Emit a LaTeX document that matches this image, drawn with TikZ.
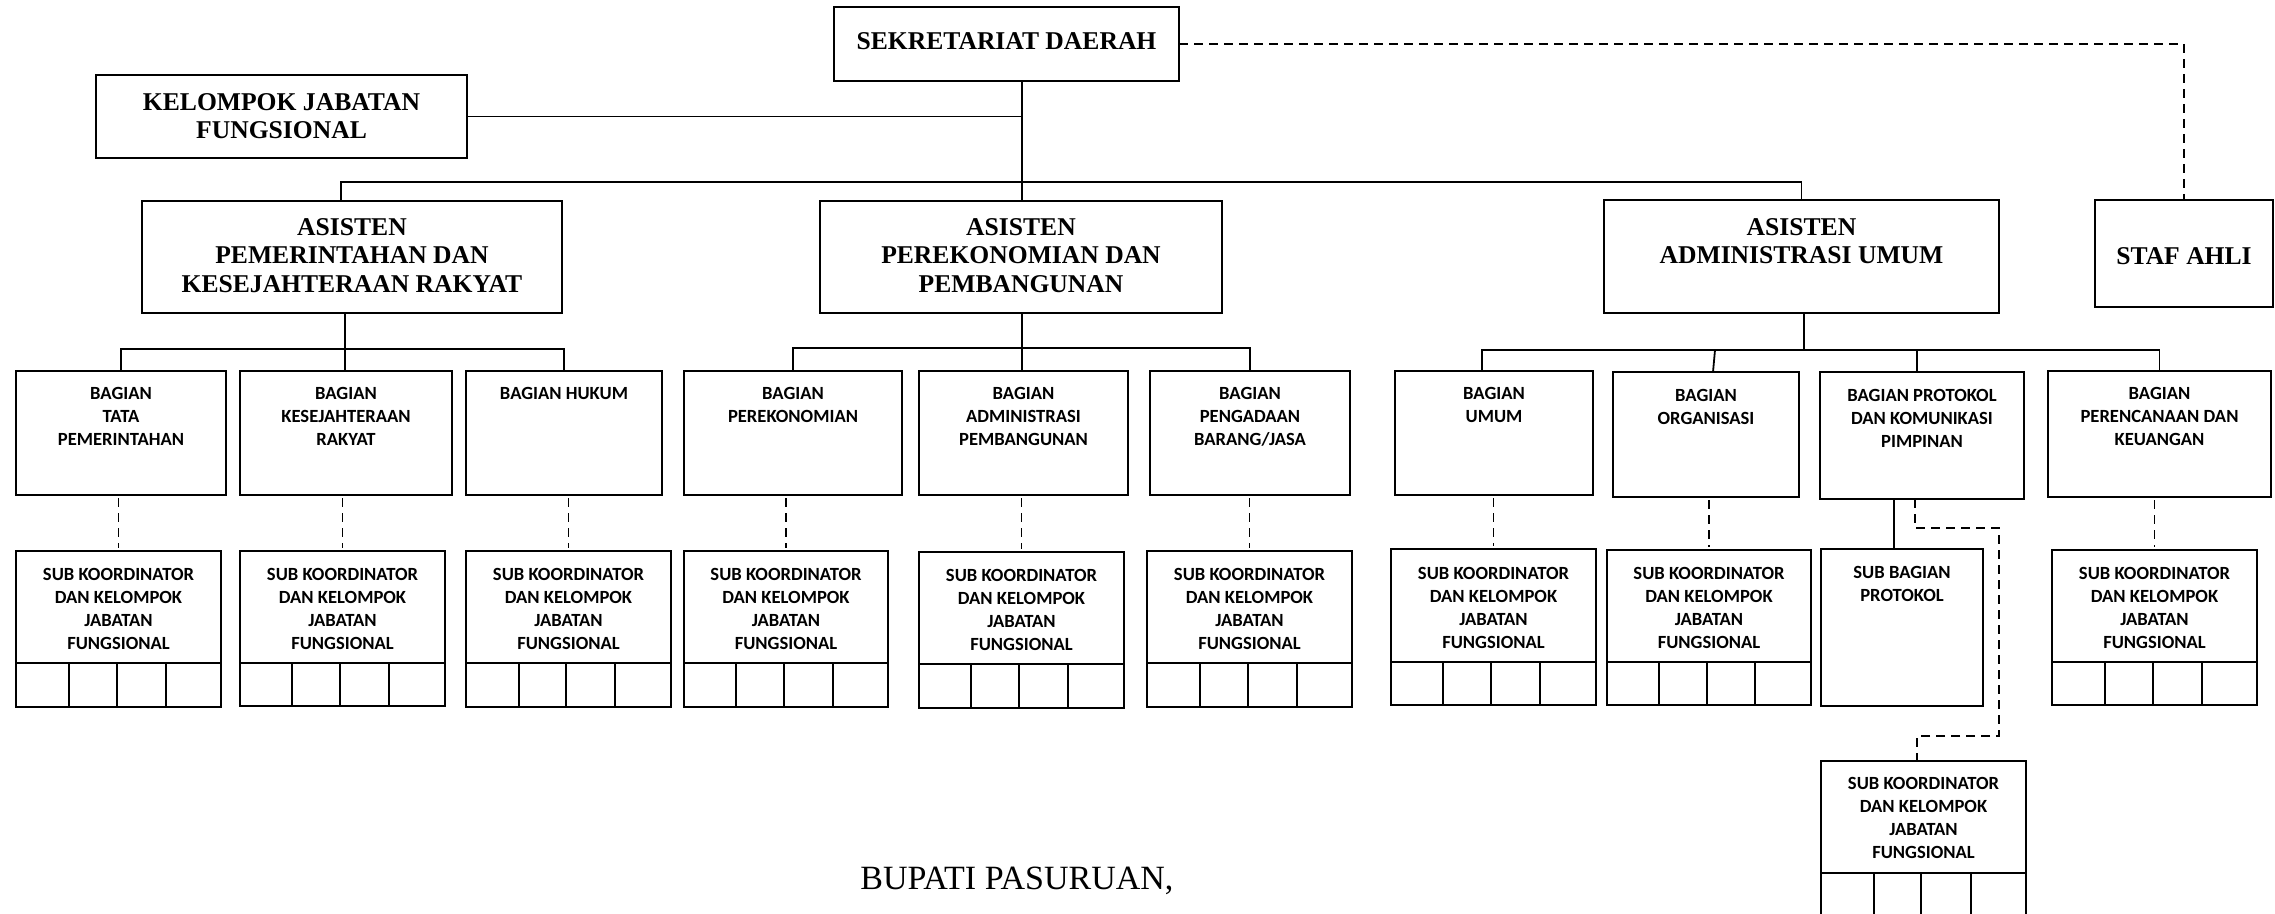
\documentclass[tikz,border=0pt]{standalone}
\usepackage{fontspec}
\setmainfont{Liberation Serif}
\newfontfamily\calib{Carlito}
\usetikzlibrary{fit,calc}
\tikzset{
 boxst/.style={draw, line width=1pt, inner sep=0pt, outer sep=0pt, rectangle},
 conn/.style={line width=0.9pt},
 dconn/.style={line width=0.9pt, dash pattern=on 4.5pt off 3pt},
 toptext/.style={font=\bfseries\fontsize{12.8}{14.3}\selectfont, align=center, inner sep=0pt, anchor=north},
 smalltext/.style={font=\calib\bfseries\fontsize{9.3}{11.5}\selectfont, align=center, inner sep=0pt, anchor=north},
}
\newcommand\obox[8]{%
 \path (#2,#3) coordinate (#1-nw) (#4,#5) coordinate (#1-se);
 \node[boxst, fit=(#1-nw)(#1-se)] (#1) {};
 \node[#7] (#1-t) at (#1.north |- 0,#6) {#8};}
\newcommand\cells[5]{%
 \draw[conn] (#1.west |- 0,#2) -- (#1.east |- 0,#2);
 \foreach \xx in {#3,#4,#5} \draw[conn] (\xx,#2) -- (\xx,0 |- #1.south);}
\newcommand\subtext{SUB KOORDINATOR\\DAN KELOMPOK\\JABATAN\\FUNGSIONAL}
\begin{document}
\begin{tikzpicture}[x=0.5pt,y=-0.5pt]
\clip (0,0) rectangle (2275,914);
\fill[white] (0,0) rectangle (2275,914);
% top level
\obox{sek}{834}{7}{1179}{81}{32}{toptext}{SEKRETARIAT DAERAH}
\obox{kjf}{96}{75}{467}{158}{93}{toptext}{KELOMPOK JABATAN\\FUNGSIONAL}
\obox{apem}{142}{201}{562}{313}{218}{toptext}{ASISTEN\\PEMERINTAHAN DAN\\KESEJAHTERAAN RAKYAT}
\obox{aper}{820}{201}{1222}{313}{218}{toptext}{ASISTEN\\PEREKONOMIAN DAN\\PEMBANGUNAN}
\obox{aadm}{1604}{200}{1999}{313}{218}{toptext}{ASISTEN\\ADMINISTRASI UMUM}
\obox{staf}{2095}{200}{2273}{307}{247}{toptext}{STAF AHLI}
% bagian row
\obox{tata}{16}{371}{226}{495}{387}{smalltext}{BAGIAN\\TATA\\PEMERINTAHAN}
\obox{kesra}{240}{371}{452}{495}{387}{smalltext}{BAGIAN\\KESEJAHTERAAN\\RAKYAT}
\obox{hukum}{466}{371}{662}{495}{387}{smalltext}{BAGIAN HUKUM}
\obox{perek}{684}{371}{902}{495}{387}{smalltext}{BAGIAN\\PEREKONOMIAN}
\obox{admp}{919}{371}{1128}{495}{387}{smalltext}{BAGIAN\\ADMINISTRASI\\PEMBANGUNAN}
\obox{peng}{1150}{371}{1350}{495}{387}{smalltext}{BAGIAN\\PENGADAAN\\BARANG/JASA}
\obox{umum}{1395}{371}{1593}{495}{387}{smalltext}{BAGIAN\\UMUM}
\obox{org}{1613}{372}{1799}{497}{389}{smalltext}{BAGIAN\\ORGANISASI}
\obox{prot}{1820}{372}{2024}{499}{389}{smalltext}{BAGIAN PROTOKOL\\DAN KOMUNIKASI\\PIMPINAN}
\obox{peren}{2048}{371}{2271}{497}{387}{smalltext}{BAGIAN\\PERENCANAAN DAN\\KEUANGAN}
% sub row
\obox{s1}{16}{551}{221}{707}{568}{smalltext}{\subtext}
\obox{s2}{240}{551}{445}{706}{568}{smalltext}{\subtext}
\obox{s3}{466}{551}{671}{707}{568}{smalltext}{\subtext}
\obox{s4}{684}{551}{888}{707}{568}{smalltext}{\subtext}
\obox{s5}{919}{552}{1124}{708}{569}{smalltext}{\subtext}
\obox{s6}{1147}{551}{1352}{707}{568}{smalltext}{\subtext}
\obox{s7}{1391}{549}{1596}{705}{567}{smalltext}{\subtext}
\obox{s8}{1607}{550}{1811}{705}{567}{smalltext}{\subtext}
\obox{sbp}{1821}{549}{1983}{706}{566}{smalltext}{SUB BAGIAN\\PROTOKOL}
\obox{s10}{2052}{550}{2257}{705}{567}{smalltext}{\subtext}
\obox{s11}{1821}{761}{2026}{960}{777}{smalltext}{\subtext}
\cells{s1}{663}{69}{117}{166}
\cells{s2}{663}{292}{340}{389}
\cells{s3}{663}{519}{566}{615}
\cells{s4}{663}{736}{784}{833}
\cells{s5}{664}{971}{1019}{1068}
\cells{s6}{663}{1200}{1248}{1297}
\cells{s7}{662}{1443}{1491}{1540}
\cells{s8}{662}{1659}{1707}{1755}
\cells{s10}{662}{2105}{2153}{2202}
\cells{s11}{873}{1874}{1921}{1971}
% top connectors
\coordinate (sekx) at (1022,0);
\draw[conn] (sekx |- sek.south) -- (sekx |- aper.north);
\draw[conn] (kjf.east) -- (kjf.east -| sekx);
\coordinate (busL) at (341,182);
\coordinate (busR) at (aadm.north |- busL);
\draw[conn] (busL |- apem.north) -- (busL) -- (busR) -- (aadm.north);
\draw[dconn] (sek.east) -| (staf.north);
% group 1
\coordinate (g1) at (345,349);
\draw[conn] (g1 |- apem.south) -- (g1 |- kesra.north);
\draw[conn] (tata.north) |- (g1) -| (hukum.north);
% group 2
\coordinate (g2) at (sekx |- 0,348);
\draw[conn] (g2 |- aper.south) -- (g2 |- admp.north);
\draw[conn] (perek.north) |- (g2) -| (peng.north);
% group 3
\coordinate (g3) at (1804,350);
\coordinate (d1) at (1482,350);
\coordinate (d2) at (1715,350);
\coordinate (d3) at (1917,350);
\coordinate (d4) at (peren.north |- g3);
\draw[conn] (g3 |- aadm.south) -- (g3);
\draw[conn] (d1 |- umum.north) -- (d1) -- (d4) -- (peren.north);
\draw[conn] (d2) -- (1713,0 |- org.north);
\draw[conn] (d3) -- (d3 |- prot.north);
% bagian to sub dashed
\foreach \b/\s in {tata/s1,kesra/s2,hukum/s3,perek/s4,admp/s5,peng/s6,umum/s7,org/s8,peren/s10}
  \draw[dconn, shorten <=1.5pt, shorten >=1.5pt] (\s.north |- \b.south) -- (\s.north);
% protokol
\coordinate (p1) at (1894,0);
\draw[conn] (p1 |- prot.south) -- (p1 |- sbp.north);
\coordinate (q1) at (1915,528);
\coordinate (q2) at (1999,528);
\coordinate (q3) at (1999,736);
\coordinate (q4) at (1917,736);
\draw[dconn] (q1 |- prot.south) -- (q1) -- (q2) -- (q3) -- (q4) -- (q4 |- s11.north);
% signature
\node[anchor=base west, inner sep=0pt, font=\fontsize{17}{20}\selectfont] (bupati) at (860,889) {BUPATI PASURUAN,};
\end{tikzpicture}
\end{document}
